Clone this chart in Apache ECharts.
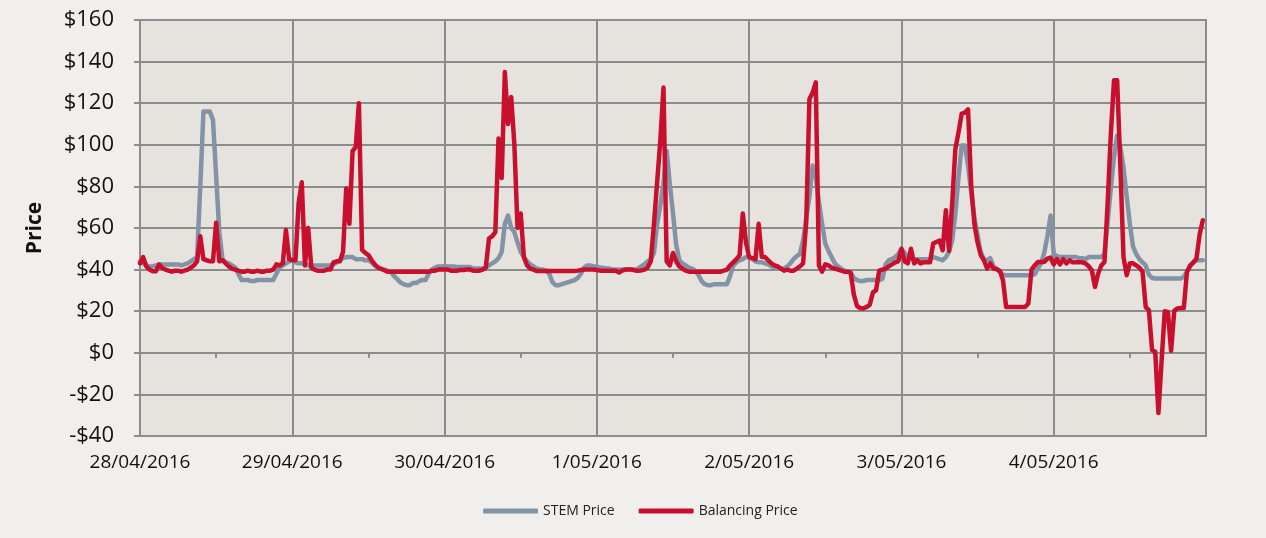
<!DOCTYPE html>
<html>
<head>
<meta charset="utf-8">
<script src="https://cdn.jsdelivr.net/npm/echarts@6/dist/echarts.min.js"></script>
<style>
  html, body { margin: 0; padding: 0; background: #F0EFED; }
  #chart { width: 1266px; height: 538px; }
</style>
</head>
<body>
<div id="chart"></div>
<script>
// Day labels (one per day; data are half-hourly, 48 points per day)
const dayLabels = ['28/04/2016', '29/04/2016', '30/04/2016', '1/05/2016', '2/05/2016', '3/05/2016', '4/05/2016'];

// STEM Price, half-hourly
const stemPrice = [
  // 28/04
  44,43,42,41.5,41.5,42,42.5,42.5,42.5,42.5,42.5,42.5,42.5,42,42.5,43,44,45,46,80,116,116,116,112,85,58,45,43.5,43,42,41,38,35,35,35,34.5,34.5,35,35,35,35,35,35,38,41,42,43,44,
  // 29/04
  44.5,43.5,43,43,42.5,42,42,42,42,42,42,42,42,42.5,43.5,44.5,45.5,46,46,46,45,45,45,44.5,44.5,43.5,42,41,40.5,40,39.5,39,37,35.5,34,33,32.5,32.5,33.5,33.5,34.5,35,35,38,40,41,41.5,41.5,
  // 30/04
  41.6,41.5,41.5,41.5,41.2,41.2,41.2,41.2,41.2,40.5,40.5,40.5,40.5,41,42,43,44,45.5,48.5,62,66,60,58,53,48.5,46,44,42.5,41.5,40.5,40.2,40,39.5,38,34,32.5,32.5,33,33.5,34,34.5,35,36,38,41,42,42,41.5,
  // 1/05
  41.5,41,40.8,40.5,40.5,40,40,40,40,40,40,40,40,40.5,41.5,42.5,44,45,48,62,71,82,97,81,67,52,44.5,43,42,41,40.5,39.5,37.5,34.5,33,32.5,32.5,33,33,33,33,33,37,42,43.5,44.5,45,46,
  // 2/05
  46,45,44,43.5,43.5,43,42.5,41.5,41,40.5,40.5,40.5,41.5,43,45,46.5,47.5,54,65,75,90,84.5,72.5,62,52.5,49,46,43,41.5,40.5,39.5,39,38.5,36,35,34.5,34.5,35,35,35,35,35,35.5,42.5,44.5,45,46,47.5,
  // 3/05
  50,48,46,45.5,45,45,45,45,45,45,46,45.5,45,44.5,46,48.5,54,67,84.5,99.7,99.7,90,77,65,56.5,48.5,44.8,44.5,45.5,41.6,40,39,37.6,37.3,37.3,37.3,37.3,37.3,37.3,37.3,37.3,37.3,37.8,40.5,43,48,56,66,
  // 4/05
  47.5,46.5,46,46,46,46,46,46,45.5,45.5,45,46,46,46,46,46,47.5,63,79,94,104.5,99,89,75,62,51,47.5,45,43.5,42,37.5,36,35.7,35.7,35.7,35.7,35.7,35.7,35.7,35.7,35.7,36.5,39,41.5,43.5,44.5,44.5,44.5
];

// Balancing Price, half-hourly
const balancingPrice = [
  // 28/04
  43,46,41.5,40,39.2,39.2,42.4,40.8,40,39.5,39,39.5,39.5,39,39.5,40,41,42,44,56,45,44.5,44,44,62.5,44,44.5,43,41.5,40.5,40,39.5,39,39,39.5,39,39,39.5,39,39,39.5,39.5,40,42.5,42,43,59,45,
  // 29/04
  44.5,44.5,72,82,42,60,41,40,39.5,39.5,39.5,40,40,43.5,44,44,48.5,79,62,97,99,120,49.5,48,47,44.5,42.5,41,40.3,39.7,39,39,39,39,39,39,39,39,39,39,39,39,39,39,39.5,39.5,40,40,
  // 30/04
  40,40,39.5,39.5,39.5,39.8,39.8,40,40,39.5,39.5,39.5,40,41,55,56,58,103,84,135,110,123,100,60,67,46,42,40.5,40,39.3,39.3,39.3,39.3,39.3,39.3,39.3,39.3,39.3,39.3,39.3,39.3,39.3,39.5,39.8,40,40,40,40,
  // 1/05
  39.8,39.5,39.5,39.4,39.4,39.4,39.4,38.6,39.5,40,40,40,39.6,39.4,39.6,40,41,44,62,82,102,127.5,44,42,48,44,41.5,40.5,39.5,39,39,39,39,39,39,39,39,39,39,39,39.5,40,42,43.5,45,47,67,53,
  // 2/05
  46,45.5,45,62,46,46,44.5,43,42,41.5,40.5,39.5,40,39.5,39.5,40.5,41.5,43,63,122,125,130,42,39,42.5,42,41,40.5,40,39.5,39,39,38.5,28,22.5,21.5,21.3,22,23,29,30,39.5,40,40.5,41.5,42.5,43.5,44,
  // 3/05
  50,44,43,50,43,44.5,43,43.5,43.5,43.5,52.5,53.3,54,49.3,68.5,49,72,98,106,115,115.5,117,80,62,53,47,44.5,40.5,43,40.5,40.3,39.4,35,22,22,22,22,22,22,22,23.7,40,42,43.7,43.7,43.7,45.3,45.8,
  // 4/05
  42.5,45,42.5,45,43,44.5,43.5,43.5,43.5,43.5,43,41.6,39.7,31.7,38,42,43.7,72,105,131,131,90,46,37.3,43,43,42,41,39,22,20.5,1.3,0.5,-29,-4,20,19.5,1,20.3,21.3,21.5,21.5,38.9,42,43.4,45.3,57,63.7
];

const seriesNames = ['STEM Price', 'Balancing Price'];
const seriesColors = ['#8293A5', '#C8102E'];

const FONT = '"Open Sans", "Noto Sans", sans-serif';
const GRID = '#8C8C8C';
const X_MAX = dayLabels.length * 48;

const chart = echarts.init(document.getElementById('chart'), null, { renderer: 'canvas' });
chart.setOption({
  animation: false,
  backgroundColor: '#F0EFED',
  textStyle: { fontFamily: FONT },
  grid: {
    left: 140, right: 60, top: 20, bottom: 102,
    containLabel: false, outerBoundsMode: 'none',
    show: true, backgroundColor: '#E6E3DE', borderColor: GRID, borderWidth: 2
  },
  legend: {
    data: seriesNames,
    left: 478, top: 499,
    icon: 'roundRect',
    itemWidth: 55, itemHeight: 5, itemGap: 24,
    textStyle: { fontFamily: FONT, fontSize: 14, color: '#222' }
  },
  xAxis: [
    {
      // labels + vertical day gridlines, at the bottom of the plot
      type: 'value', position: 'bottom',
      min: 0, max: X_MAX, interval: 48,
      axisLine: { show: false, onZero: false },
      axisTick: { show: false },
      splitLine: { show: true, lineStyle: { color: GRID, width: 2 } },
      axisLabel: {
        margin: 17, fontSize: 19, color: '#111', fontFamily: FONT,
        showMinLabel: true, showMaxLabel: false, hideOverlap: false,
        formatter: v => (dayLabels[v / 48] !== undefined ? dayLabels[v / 48] : '')
      }
    },
    {
      // axis line with ticks crossing at $0
      type: 'value', position: 'bottom',
      min: 0, max: X_MAX, interval: 48,
      axisLine: { show: true, onZero: true, lineStyle: { color: GRID, width: 2 } },
      axisTick: { show: true, length: 5, lineStyle: { color: GRID, width: 2 } },
      minorTick: { show: true, splitNumber: 2, length: 5, lineStyle: { color: GRID, width: 2 } },
      splitLine: { show: false },
      axisLabel: { show: false }
    }
  ],
  yAxis: {
    type: 'value',
    min: -40, max: 160, interval: 20,
    name: 'Price', nameLocation: 'middle', nameGap: 94, nameRotate: 90,
    nameTextStyle: { fontFamily: FONT, fontSize: 21, fontWeight: 'bold', color: '#111' },
    axisLine: { show: true, lineStyle: { color: GRID, width: 2 } },
    axisTick: { show: true, length: 6, lineStyle: { color: GRID, width: 2 } },
    splitLine: { show: true, lineStyle: { color: GRID, width: 2 } },
    axisLabel: {
      margin: 26, fontSize: 22, color: '#111', fontFamily: FONT,
      formatter: v => (v < 0 ? '-$' + (-v) : '$' + v)
    }
  },
  series: [
    {
      name: seriesNames[0], type: 'line', showSymbol: false, symbol: 'none',
      xAxisIndex: 0, color: seriesColors[0],
      lineStyle: { width: 4.5, color: seriesColors[0], cap: 'round', join: 'round' },
      data: stemPrice.map((v, i) => [i, v])
    },
    {
      name: seriesNames[1], type: 'line', showSymbol: false, symbol: 'none',
      xAxisIndex: 0, color: seriesColors[1],
      lineStyle: { width: 4.5, color: seriesColors[1], cap: 'round', join: 'round' },
      data: balancingPrice.map((v, i) => [i, v])
    }
  ]
});
</script>
</body>
</html>
